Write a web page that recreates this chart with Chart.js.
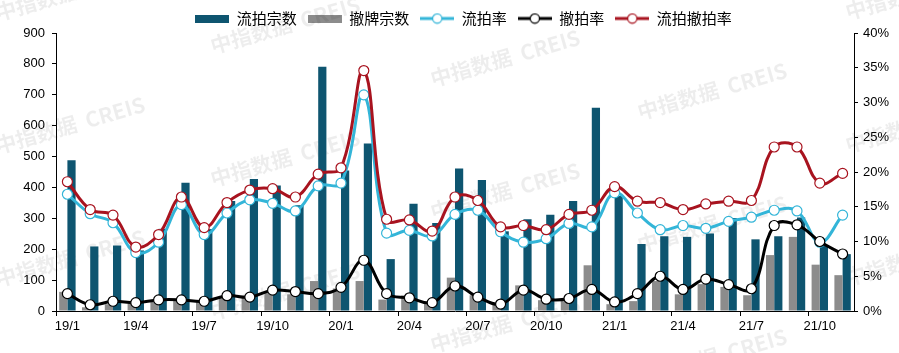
<!DOCTYPE html>
<html>
<head>
<meta charset="utf-8">
<script src="https://cdn.jsdelivr.net/npm/chart.js@4"></script>
<style>
  body { margin: 0; background: #fff; }
  .chart-box { position: relative; width: 899px; height: 353px; }
</style>
</head>
<body>
<div class="chart-box"><canvas id="auctionChart"></canvas></div>
<script>
// data
const months = ["19/1", "19/2", "19/3", "19/4", "19/5", "19/6", "19/7", "19/8", "19/9", "19/10", "19/11", "19/12",
  "20/1", "20/2", "20/3", "20/4", "20/5", "20/6", "20/7", "20/8", "20/9", "20/10", "20/11", "20/12",
  "21/1", "21/2", "21/3", "21/4", "21/5", "21/6", "21/7", "21/8", "21/9", "21/10", "21/11"]
const liupaiCount = [488, 209, 212, 196, 266, 415, 265, 356, 427, 406, 342, 791, 455, 542, 168, 347, 285, 461,
  424, 258, 297, 312, 356, 658, 372, 217, 242, 240, 251, 301, 232, 242, 303, 213, 184]
const chepaiCount = [62, 12, 22, 25, 35, 38, 30, 45, 45, 62, 54, 97, 73, 97, 37, 50, 29, 108,
  51, 24, 83, 35, 37, 148, 22, 32, 97, 54, 87, 78, 51, 181, 240, 150, 116]
const liupaiRate = [16.8, 14.0, 12.7, 8.4, 9.9, 15.3, 11.0, 14.1, 16.0, 15.5, 14.4, 18.0, 18.4, 31.1, 11.2, 11.6, 10.8, 13.9,
  14.5, 11.4, 9.9, 10.4, 12.6, 12.1, 17.0, 14.1, 11.7, 12.3, 11.9, 12.9, 13.5, 14.5, 14.4, 9.9, 13.8]
const chepaiRate = [2.5, 0.9, 1.4, 1.2, 1.6, 1.6, 1.4, 2.2, 2.0, 3.0, 2.8, 2.5, 3.4, 7.3, 2.5, 1.9, 1.2, 3.6,
  2.0, 1.0, 3.0, 1.7, 1.8, 3.1, 1.3, 2.5, 5.0, 3.1, 4.6, 3.8, 3.2, 12.3, 12.4, 10.0, 8.2]
const totalRate = [18.6, 14.6, 13.8, 9.2, 11.0, 16.4, 12.0, 15.6, 17.4, 17.6, 16.4, 19.7, 20.6, 34.6, 13.2, 13.1, 11.5, 16.4,
  15.9, 12.1, 12.3, 11.7, 13.9, 14.5, 17.9, 15.8, 15.6, 14.6, 15.4, 15.8, 15.9, 23.6, 23.6, 18.4, 19.8]

const DARK = "#0e5570"
const GRAY = "#8c8c8c"
const CYAN = "#33b5d8"
const BLACK = "#000000"
const RED = "#a8131f"

const tickFont = { family: "Liberation Sans, Arial", size: 13 }

// small canvases used as legend swatches
function barSwatch(color) {
  const c = document.createElement("canvas")
  c.width = 34
  c.height = 8
  const g = c.getContext("2d")
  g.fillStyle = color
  g.fillRect(0, 0, 34, 8)
  return c
}
function lineSwatch(color) {
  const c = document.createElement("canvas")
  c.width = 34
  c.height = 12
  const g = c.getContext("2d")
  g.strokeStyle = color
  g.lineWidth = 3
  g.beginPath()
  g.moveTo(0, 6)
  g.lineTo(34, 6)
  g.stroke()
  g.fillStyle = "#fff"
  g.lineWidth = 1.2
  g.beginPath()
  g.arc(17, 6, 4.6, 0, Math.PI * 2)
  g.fill()
  g.stroke()
  return c
}
const swatches = [barSwatch(DARK), barSwatch(GRAY), lineSwatch(CYAN), lineSwatch(BLACK), lineSwatch(RED)]

// light watermark text behind the marks
const watermark = {
  id: "watermark",
  beforeDatasetsDraw(chart) {
    const ctx = chart.ctx
    const spots = [[70, -8], [70, 125], [70, 258], [285, 25], [285, 158], [285, 291],
      [505, 58], [505, 191], [505, 324], [712, 91], [712, 224], [712, 357], [920, -9], [920, 124], [920, 257]]
    ctx.save()
    ctx.fillStyle = "rgba(0,0,0,0.07)"
    ctx.font = "bold 21px 'Noto Sans CJK SC'"
    ctx.textAlign = "center"
    ctx.textBaseline = "middle"
    spots.forEach(([x, y]) => {
      ctx.save()
      ctx.translate(x, y)
      ctx.rotate(-0.28)
      ctx.fillText("中指数据  CREIS", 0, 0)
      ctx.restore()
    })
    ctx.restore()
  },
}

// nudge the legend a little right, like the original
const legendShift = {
  id: "legendShift",
  afterLayout(chart) {
    chart.legend.left += 14
    chart.legend.right += 14
  },
}

function lineSet(label, data, color, order) {
  return {
    type: "line",
    label: label,
    data: data,
    yAxisID: "y1",
    borderColor: color,
    backgroundColor: "#fff",
    borderWidth: 3,
    tension: 0.4,
    pointRadius: 5,
    pointBorderWidth: 1.2,
    pointBackgroundColor: "#fff",
    pointBorderColor: color,
    order: order,
  }
}

const ctx = document.getElementById("auctionChart").getContext("2d")
const auctionChart = new Chart(ctx, {
  type: "bar",
  data: {
    labels: months,
    datasets: [
      {
        label: "流拍宗数",
        data: liupaiCount,
        backgroundColor: DARK,
        categoryPercentage: 0.72,
        barPercentage: 1,
        yAxisID: "y",
        order: 5,
      },
      {
        label: "撤牌宗数",
        data: chepaiCount,
        backgroundColor: GRAY,
        categoryPercentage: 0.72,
        barPercentage: 1,
        yAxisID: "y",
        order: 4,
      },
      lineSet("流拍率", liupaiRate, CYAN, 3),
      lineSet("撤拍率", chepaiRate, BLACK, 2),
      lineSet("流拍撤拍率", totalRate, RED, 1),
    ],
  },
  options: {
    responsive: true,
    maintainAspectRatio: false,
    animation: false,
    layout: { padding: 0 },
    plugins: {
      tooltip: { enabled: false },
      legend: {
        position: "top",
        maxHeight: 33,
        labels: {
          usePointStyle: true,
          pointStyleWidth: 34,
          padding: 11,
          color: "#000",
          font: { family: "Noto Sans CJK SC", size: 15 },
          sort: (a, b) => a.datasetIndex - b.datasetIndex,
          generateLabels(chart) {
            const items = Chart.defaults.plugins.legend.labels.generateLabels(chart)
            items.forEach((item) => {
              item.pointStyle = swatches[item.datasetIndex]
            })
            return items
          },
        },
      },
    },
    scales: {
      x: {
        offset: true,
        grid: {
          offset: true,
          drawOnChartArea: false,
          tickLength: 5,
          color: (c) => (c.index % 3 === 0 ? "#000" : "rgba(0,0,0,0)"),
        },
        border: { display: true, color: "#000", width: 1 },
        ticks: {
          autoSkip: false,
          maxRotation: 0,
          padding: 3,
          color: "#000",
          font: tickFont,
          callback: (v, i) => (i % 3 === 0 ? months[i] : ""),
        },
        afterFit: (s) => { s.height = 42 },
      },
      y: {
        position: "left",
        min: 0,
        max: 900,
        grid: { drawOnChartArea: false, tickLength: 4, color: "#000" },
        border: { display: true, color: "#000", width: 1 },
        ticks: { stepSize: 100, padding: 7, color: "#000", font: tickFont },
        afterFit: (s) => { s.width = 56 },
      },
      y1: {
        position: "right",
        min: 0,
        max: 40,
        grid: { drawOnChartArea: false, tickLength: 4, color: "#000" },
        border: { display: true, color: "#000", width: 1 },
        ticks: { stepSize: 5, padding: 5, color: "#000", font: tickFont, callback: (v) => v + "%" },
        afterFit: (s) => { s.width = 45 },
      },
    },
  },
  plugins: [watermark, legendShift],
})
</script>
</body>
</html>
